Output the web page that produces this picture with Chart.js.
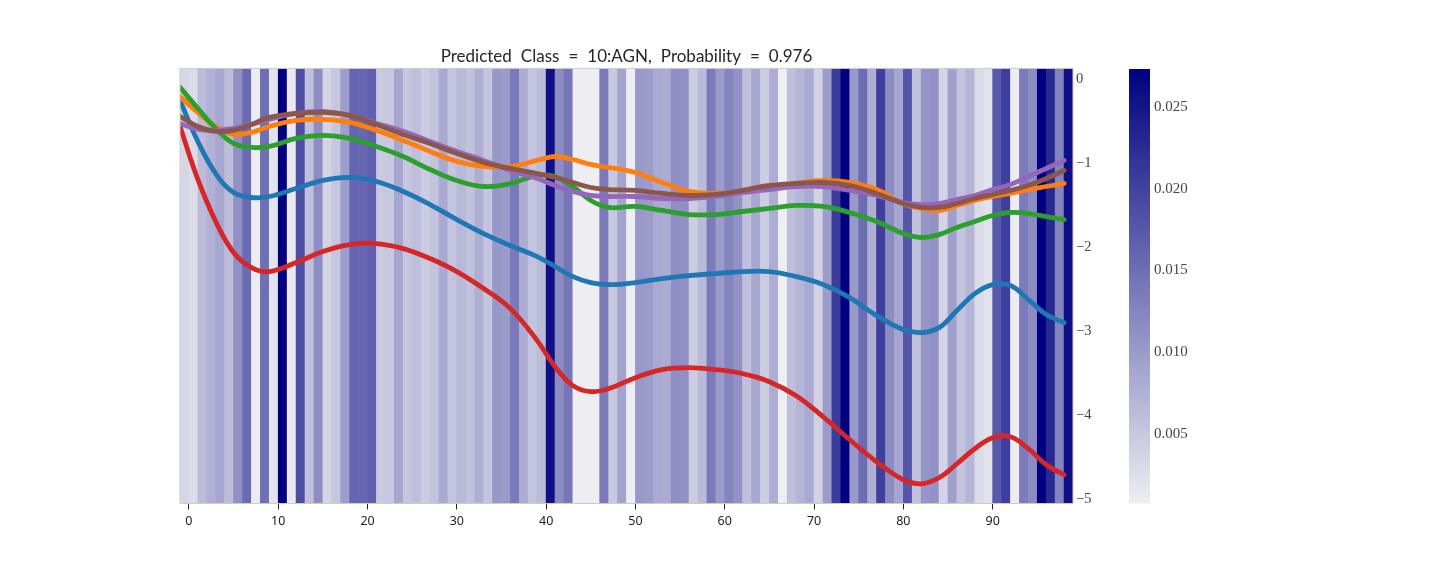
<!DOCTYPE html>
<html>
<head>
<meta charset="utf-8">
<title>Predicted Class</title>
<script src="https://cdn.jsdelivr.net/npm/chart.js@4/dist/chart.umd.min.js"></script>
<style>
	html, body { margin: 0; padding: 0; background: #fff; }
	#wrap { position: relative; width: 1440px; height: 576px; overflow: hidden; }
	canvas { position: absolute; top: 0; }
	#main { left: 0; }
	#bar { left: 1100px; }
</style>
</head>
<body>
<div id="wrap">
	<canvas id="main" width="1440" height="576"></canvas>
	<canvas id="bar" width="200" height="576"></canvas>
</div>
<script>
var titleText = "Predicted Class = 10:AGN, Probability = 0.976";

// one value per heatmap cell, first cell spans x -1..0
var cellValues = [
	0.0033, 0.0026, 0.0062, 0.0074, 0.0086, 0.0061, 0.0111, 0.0152, 0.0009, 0.0148,
	0.0018, 0.0272, 0.0012, 0.0185, 0.0057, 0.0114, 0.0035, 0.0051, 0.0095, 0.0160,
	0.0157, 0.0165, 0.0049, 0.0048, 0.0086, 0.0051, 0.0058, 0.0045, 0.0054, 0.0083,
	0.0053, 0.0066, 0.0055, 0.0076, 0.0053, 0.0103, 0.0099, 0.0136, 0.0079, 0.0053,
	0.0063, 0.0254, 0.0116, 0.0140, 0.0006, 0.0006, 0.0006, 0.0136, 0.0049, 0.0090,
	0.0007, 0.0102, 0.0098, 0.0083, 0.0080, 0.0112, 0.0111, 0.0043, 0.0064, 0.0135,
	0.0099, 0.0125, 0.0109, 0.0057, 0.0085, 0.0043, 0.0079, 0.0006, 0.0058, 0.0071,
	0.0083, 0.0037, 0.0098, 0.0205, 0.0272, 0.0100, 0.0151, 0.0076, 0.0202, 0.0114,
	0.0088, 0.0177, 0.0055, 0.0105, 0.0109, 0.0035, 0.0093, 0.0054, 0.0070, 0.0028,
	0.0019, 0.0173, 0.0203, 0.0008, 0.0133, 0.0116, 0.0272, 0.0226, 0.0125, 0.0255
];

var lineX = [
	-1, 1, 3, 5, 7, 9, 12, 15, 18, 21, 24, 27, 30, 33, 36, 39, 41, 43, 45, 47,
	50, 53, 56, 59, 62, 65, 68, 71, 74, 77, 80, 82, 84, 86, 88, 90, 92, 94, 96, 98
];

var blueLine = [
	-0.274, -0.764, -1.146, -1.372, -1.432, -1.420, -1.325, -1.229, -1.193, -1.241,
	-1.360, -1.516, -1.695, -1.862, -2.005, -2.136, -2.255, -2.375, -2.446, -2.470,
	-2.446, -2.399, -2.363, -2.339, -2.315, -2.315, -2.375, -2.470, -2.625, -2.840,
	-3.007, -3.043, -2.983, -2.780, -2.578, -2.470, -2.482, -2.649, -2.828, -2.924
];
var orangeLine = [
	-0.227, -0.418, -0.585, -0.680, -0.656, -0.585, -0.513, -0.501, -0.537, -0.632,
	-0.752, -0.883, -1.002, -1.062, -1.062, -0.990, -0.943, -0.979, -1.038, -1.074,
	-1.134, -1.253, -1.360, -1.384, -1.372, -1.325, -1.265, -1.229, -1.253, -1.337,
	-1.504, -1.563, -1.587, -1.527, -1.468, -1.420, -1.384, -1.337, -1.301, -1.265
];
var greenLine = [
	-0.119, -0.370, -0.609, -0.788, -0.835, -0.823, -0.728, -0.692, -0.728, -0.823,
	-0.943, -1.098, -1.229, -1.301, -1.265, -1.169, -1.181, -1.301, -1.468, -1.551,
	-1.539, -1.587, -1.635, -1.635, -1.599, -1.563, -1.527, -1.539, -1.611, -1.718,
	-1.862, -1.909, -1.874, -1.790, -1.718, -1.647, -1.611, -1.623, -1.659, -1.695
];
var redLine = [
	-0.585, -1.217, -1.718, -2.088, -2.267, -2.315, -2.208, -2.076, -1.993, -1.981,
	-2.041, -2.160, -2.315, -2.518, -2.757, -3.138, -3.449, -3.675, -3.747, -3.711,
	-3.580, -3.484, -3.461, -3.484, -3.532, -3.628, -3.795, -4.045, -4.320, -4.582,
	-4.797, -4.845, -4.773, -4.606, -4.427, -4.296, -4.284, -4.427, -4.618, -4.737
];
var purpleLine = [
	-0.549, -0.621, -0.632, -0.609, -0.561, -0.501, -0.430, -0.406, -0.453, -0.549,
	-0.644, -0.764, -0.883, -0.990, -1.110, -1.205, -1.289, -1.360, -1.408, -1.420,
	-1.420, -1.444, -1.444, -1.420, -1.372, -1.337, -1.301, -1.301, -1.348, -1.408,
	-1.492, -1.516, -1.504, -1.456, -1.408, -1.337, -1.277, -1.181, -1.086, -0.990
];
var brownLine = [
	-0.465, -0.585, -0.644, -0.632, -0.561, -0.477, -0.430, -0.418, -0.453, -0.561,
	-0.680, -0.788, -0.907, -1.014, -1.086, -1.146, -1.193, -1.253, -1.313, -1.337,
	-1.348, -1.384, -1.408, -1.396, -1.348, -1.289, -1.265, -1.253, -1.289, -1.384,
	-1.504, -1.551, -1.551, -1.504, -1.444, -1.396, -1.348, -1.289, -1.205, -1.110
];

var xTicks = [0, 10, 20, 30, 40, 50, 60, 70, 80, 90];
var yTicks = [0, -1, -2, -3, -4, -5];
var barTicks = [0.005, 0.010, 0.015, 0.020, 0.025];

var yMin = -5.08, yMax = 0.107;
var vMin = 0.0006, vMax = 0.0272;
// label axes sit a little lower than the data, the serif digits ride high otherwise
var yNudge = 0.024, vNudge = 0.00012;
var light = [238, 238, 242], dark = [0, 0, 128];

function cellColor(v) {
	var t = (v - vMin) / (vMax - vMin);
	var c = light.map(function(l, i) { return Math.round(l + (dark[i] - l) * t); });
	return "rgb(" + c.join(",") + ")";
}

function lineSet(values, color, order) {
	return {
		type: "line",
		data: values.map(function(v, i) { return { x: lineX[i], y: v }; }),
		borderColor: color,
		borderWidth: 4.8,
		borderCapStyle: "round",
		borderJoinStyle: "round",
		tension: 0.4,
		pointRadius: 0,
		fill: false,
		order: order
	};
}

var frame = {
	id: "frame",
	beforeDraw: function(chart) {
		chart.ctx.wordSpacing = "4.7px";
	},
	afterDatasetsDraw: function(chart) {
		var a = chart.chartArea, ctx = chart.ctx;
		ctx.save();
		ctx.strokeStyle = "#cccccc";
		ctx.lineWidth = 1;
		ctx.strokeRect(a.left, a.top, a.right - a.left, a.bottom - a.top);
		ctx.restore();
	}
};

new Chart(document.getElementById("main"), {
	type: "bar",
	data: {
		datasets: [
			{
				data: cellValues.map(function(v, i) { return { x: i - 0.5, y: [yMin, yMax] }; }),
				backgroundColor: cellValues.map(cellColor),
				borderWidth: 0,
				barPercentage: 1,
				categoryPercentage: 1,
				order: 10
			},
			lineSet(blueLine, "#1f77b4", 6),
			lineSet(orangeLine, "#ff7f0e", 5),
			lineSet(greenLine, "#2ca02c", 4),
			lineSet(redLine, "#d62728", 3),
			lineSet(purpleLine, "#9467bd", 2),
			lineSet(brownLine, "#8c564b", 1)
		]
	},
	options: {
		responsive: false,
		animation: false,
		events: [],
		layout: { padding: { left: 180, right: 327, top: 46, bottom: 32.5 } },
		plugins: {
			legend: { display: false },
			tooltip: { enabled: false },
			title: {
				display: true,
				text: titleText,
				fullSize: false,
				color: "#262626",
				font: { family: "Lato", size: 17, weight: "normal" },
				padding: { top: 0, bottom: 2 }
			}
		},
		scales: {
			x: {
				type: "linear",
				offset: false,
				min: -1,
				max: 99,
				afterBuildTicks: function(s) { s.ticks = xTicks.map(function(v) { return { value: v }; }); },
				afterFit: function(s) { s.height = 40; },
				border: { display: false },
				grid: { offset: false, drawOnChartArea: false, drawTicks: true, tickColor: "#222", tickLength: 6, tickWidth: 1 },
				ticks: {
					maxRotation: 0,
					autoSkip: false,
					padding: 4,
					color: "#222",
					font: { family: "Noto Sans", size: 12.5 }
				}
			},
			y: { display: false, min: yMin, max: yMax },
			yLabels: {
				position: "right",
				min: yMin + yNudge,
				max: yMax + yNudge,
				afterBuildTicks: function(s) { s.ticks = yTicks.map(function(v) { return { value: v }; }); },
				afterFit: function(s) { s.width = 40; },
				border: { display: false },
				grid: { display: false, drawTicks: false },
				ticks: {
					padding: 3,
					color: "#444",
					font: { family: "Liberation Serif", size: 14.5 },
					callback: function(v) { return v < 0 ? "\u2212" + (-v) : String(v); }
				}
			}
		}
	},
	plugins: [frame]
});

new Chart(document.getElementById("bar"), {
	type: "bar",
	data: {
		labels: [""],
		datasets: [{
			data: [[vMin + vNudge, vMax + vNudge]],
			backgroundColor: function(ctx) {
				var a = ctx.chart.chartArea;
				if (!a) return "#000080";
				var g = ctx.chart.ctx.createLinearGradient(0, a.bottom, 0, a.top);
				g.addColorStop(0, cellColor(vMin));
				g.addColorStop(1, cellColor(vMax));
				return g;
			},
			borderWidth: 0,
			barPercentage: 1,
			categoryPercentage: 1
		}]
	},
	options: {
		responsive: false,
		animation: false,
		events: [],
		layout: { padding: { left: 29, right: 100, top: 69, bottom: 72.5 } },
		plugins: { legend: { display: false }, tooltip: { enabled: false } },
		scales: {
			x: { display: false },
			y: {
				position: "right",
				min: vMin + vNudge,
				max: vMax + vNudge,
				afterBuildTicks: function(s) { s.ticks = barTicks.map(function(v) { return { value: v }; }); },
				afterFit: function(s) { s.width = 50; },
				border: { display: false },
				grid: { display: false, drawTicks: false },
				ticks: {
					padding: 4,
					color: "#444",
					font: { family: "Liberation Serif", size: 15 },
					callback: function(v) { return v.toFixed(3); }
				}
			}
		}
	}
});
</script>
</body>
</html>
